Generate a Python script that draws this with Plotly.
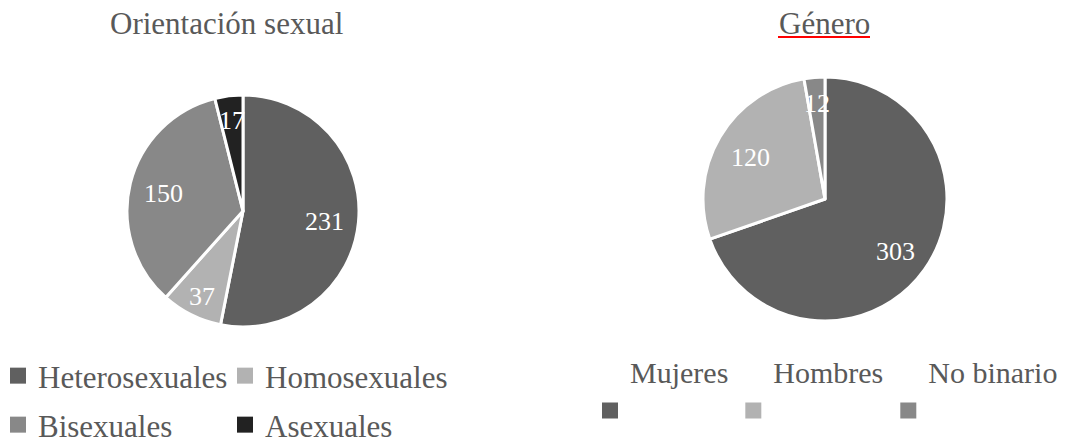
import math
import plotly.graph_objects as go

# ---------------- data ----------------
orient_labels = ["Heterosexuales", "Homosexuales", "Bisexuales", "Asexuales"]
orient_values = [231, 37, 150, 17]
orient_colors = ["#606060", "#b2b2b2", "#888888", "#222222"]

genero_labels = ["Mujeres", "Hombres", "No binario"]
genero_values = [303, 120, 12]
genero_colors = ["#606060", "#b2b2b2", "#888888"]

titles = ["Orientación sexual", "Género"]

# ---------------- style ----------------
W, H = 1080, 443
FONT = "Liberation Serif, Times New Roman, serif"
TXT = "#595959"


def fx(px):
    return px / W


def fy(px):
    return 1 - px / H


# pie placement (pixel boxes -> paper domains)
LEFT_BOX = (127, 95, 359, 327)     # x0, y0(top), x1, y1(bottom)
RIGHT_BOX = (703, 77, 947, 321)


def domain(box):
    x0, y0, x1, y1 = box
    return dict(x=[fx(x0), fx(x1)], y=[fy(y1), fy(y0)])


def value_labels(values, box):
    """Excel-like data labels: on the mid-angle of each slice (clockwise from 12 o'clock)."""
    x0, y0, x1, y1 = box
    cx, cy = (x0 + x1) / 2, (y0 + y1) / 2
    r = min(x1 - x0, y1 - y0) / 2
    total = float(sum(values))
    cum = 0.0
    out = []
    for v in values:
        share = v / total
        mid = (cum + v / 2) / total * 2 * math.pi
        frac = 0.80 if share < 0.10 else 0.71
        px = cx + frac * r * math.sin(mid)
        py = cy - frac * r * math.cos(mid) + 2
        out.append(dict(text=str(v), x=fx(px), y=fy(py), xref="paper", yref="paper",
                        xanchor="center", yanchor="middle", showarrow=False,
                        font=dict(family=FONT, size=26, color="white")))
        cum += v
    return out


fig = go.Figure()

fig.add_trace(go.Pie(
    labels=orient_labels, values=orient_values, sort=False,
    direction="clockwise", rotation=0,
    marker=dict(colors=orient_colors, line=dict(color="white", width=3)),
    textinfo="none",
    domain=domain(LEFT_BOX),
    showlegend=False, hoverinfo="label+value",
))

fig.add_trace(go.Pie(
    labels=genero_labels, values=genero_values, sort=False,
    direction="clockwise", rotation=0,
    marker=dict(colors=genero_colors, line=dict(color="white", width=3)),
    textinfo="none",
    domain=domain(RIGHT_BOX),
    showlegend=False, hoverinfo="label+value",
))

# legend entries (squares) built from the same label / colour arrays
for i, (lab, col) in enumerate(zip(orient_labels, orient_colors)):
    fig.add_trace(go.Scatter(
        x=[None], y=[None], mode="markers", name=lab,
        marker=dict(symbol="square", size=16, color=col, line=dict(width=0)),
        legend="legend" if i < 2 else "legend3", showlegend=True, hoverinfo="skip",
    ))

for lab, col in zip(genero_labels, genero_colors):
    fig.add_trace(go.Scatter(
        x=[None], y=[None], mode="markers", name=lab + "<br> ",
        marker=dict(symbol="square", size=16, color=col, line=dict(width=0)),
        legend="legend2", showlegend=True, hoverinfo="skip",
    ))


def leg(size, **kw):
    d = dict(orientation="h", xanchor="left", yanchor="middle",
             font=dict(family=FONT, size=size, color=TXT),
             bgcolor="rgba(0,0,0,0)", borderwidth=0,
             itemclick=False, itemdoubleclick=False)
    d.update(kw)
    return d


annotations = [
    dict(text=titles[0], x=fx(226), y=fy(24), xref="paper", yref="paper",
         xanchor="center", yanchor="middle", showarrow=False,
         font=dict(family=FONT, size=31, color=TXT)),
    dict(text=titles[1], x=fx(824), y=fy(23), xref="paper", yref="paper",
         xanchor="center", yanchor="middle", showarrow=False,
         font=dict(family=FONT, size=31, color=TXT)),
]
annotations += value_labels(orient_values, LEFT_BOX)
annotations += value_labels(genero_values, RIGHT_BOX)

fig.update_layout(
    width=W, height=H,
    margin=dict(l=0, r=0, t=0, b=0, autoexpand=False),
    paper_bgcolor="white", plot_bgcolor="white",
    xaxis=dict(visible=False), yaxis=dict(visible=False),
    legend=leg(31, x=fx(-2), y=fy(376), entrywidth=182),
    legend3=leg(31, x=fx(-2), y=fy(425), entrywidth=182),
    legend2=leg(30, x=fx(590), y=fy(391), valign="bottom"),
    annotations=annotations,
    shapes=[
        dict(type="line", xref="paper", yref="paper",
             x0=fx(778), x1=fx(870), y0=fy(37), y1=fy(37),
             line=dict(color="#ff0000", width=2)),
    ],
)

fig.write_html("out.html")
